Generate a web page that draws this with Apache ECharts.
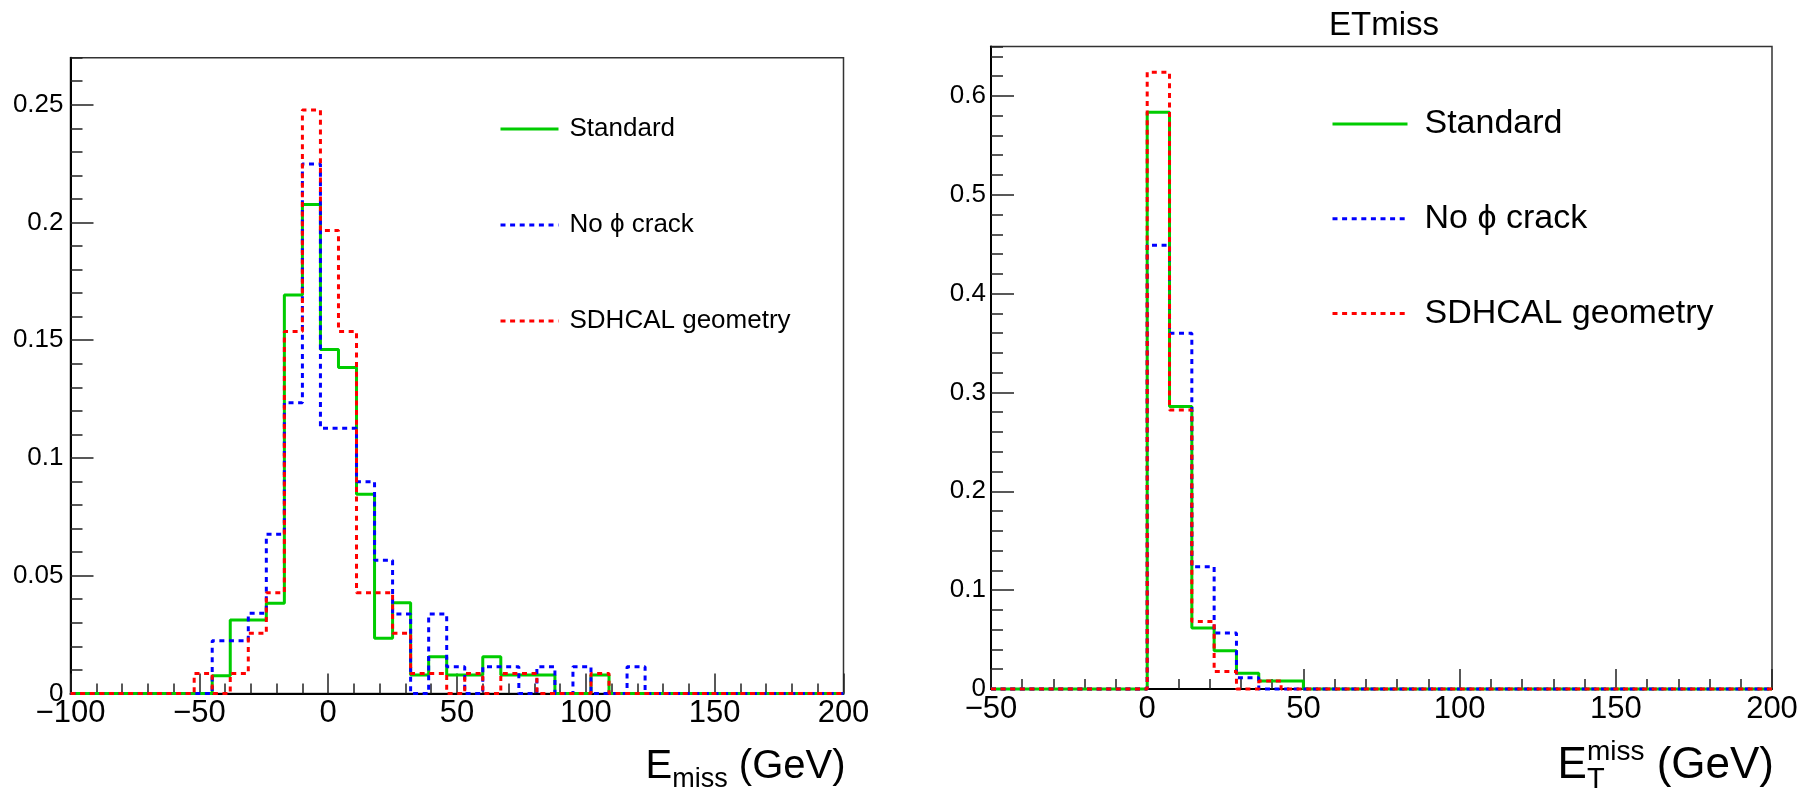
<!DOCTYPE html>
<html>
<head>
<meta charset="utf-8">
<script src="https://cdn.jsdelivr.net/npm/echarts@6/dist/echarts.min.js"></script>
<style>
  html, body { margin: 0; padding: 0; background: #fff; }
  #chart { width: 1818px; height: 794px; }
</style>
</head>
<body>
<div id="chart"></div>
<script>
// ---- E_miss histograms: 7 GeV bins, first listed bin starts at -52 GeV ----
const emissBinStart = -52;
const emissBinWidth = 7;
const emissStandard = [0, 0.0075, 0.0312, 0.0312, 0.0383, 0.1692, 0.2076, 0.1461, 0.1384, 0.0846,
  0.0234, 0.0385, 0.0078, 0.0156, 0.0078, 0.0078, 0.0156, 0.0078, 0.0078, 0.0078,
  0, 0, 0.0078, 0, 0];
const emissNoPhiCrack = [0, 0.0224, 0.0224, 0.034, 0.0676, 0.1235, 0.2249, 0.1126, 0.1126, 0.0899,
  0.0565, 0.0337, 0, 0.0337, 0.0113, 0, 0.0113, 0.0113, 0, 0.0113,
  0, 0.0113, 0, 0, 0.0113];
const emissSdhcal = [0.0085, 0, 0.0085, 0.0255, 0.0428, 0.1537, 0.2478, 0.1966, 0.1537, 0.0428,
  0.0428, 0.0255, 0.0085, 0.0085, 0, 0.0085, 0, 0.0085, 0.0085, 0,
  0, 0, 0.0085, 0, 0];
const emissRange = [-100, 200];
const emissYMax = 0.27;

// ---- ET_miss histograms: 35 bins over [-50, 200], first listed bin starts at 0 ----
const etmissBinStart = 0;
const etmissBinWidth = 250 / 35;
const etmissStandard = [0.5836, 0.2857, 0.0617, 0.0386, 0.016, 0.0081, 0.0081];
const etmissNoPhiCrack = [0.449, 0.3598, 0.1236, 0.0566, 0.0115, 0, 0];
const etmissSdhcal = [0.624, 0.2823, 0.0684, 0.0176, 0, 0.0081, 0];
const etmissRange = [-50, 200];
const etmissYMax = 0.65;

const seriesNames = ['Standard', 'No \u03d5 crack', 'SDHCAL geometry'];
const seriesColors = ['#00cc00', '#0000ff', '#ff0000'];
const FONT = '"Liberation Sans", Arial, Helvetica, sans-serif';

// Histogram outline: zero up to the first bin, one step per bin, back to zero, on to the axis end.
function outline(start, width, values, lo, hi) {
  const pts = [[lo, 0]];
  values.forEach((v, i) => pts.push([start + i * width, v]));
  pts.push([start + values.length * width, 0]);
  pts.push([hi, 0]);
  return pts;
}

const minusFmt = v => (v < 0 ? '\u2212' + (-v) : String(v));
const tickColor = '#222';
const dashPattern = [5, 4.6];

function xAxes(grid, range, nameRich, name, pad) {
  return [
    {
      type: 'value', gridIndex: grid, position: 'bottom', min: range[0], max: range[1], interval: 50,
      axisLine: { show: true, onZero: false, lineStyle: { color: '#000', width: 2 } },
      axisTick: { show: true, inside: true, length: 20, lineStyle: { color: tickColor, width: 1.5 } },
      axisLabel: { fontSize: 31, fontFamily: FONT, color: '#000', margin: 5, formatter: minusFmt },
      splitLine: { show: false },
      name: name, nameLocation: 'end', nameGap: 2,
      nameTextStyle: { align: 'right', verticalAlign: 'top', padding: [pad, 0, 0, 0], fontFamily: FONT, rich: nameRich }
    },
    {
      type: 'value', gridIndex: grid, position: 'bottom', min: range[0], max: range[1], interval: 10,
      axisLine: { show: false, onZero: false },
      axisTick: { show: true, inside: true, length: 10, lineStyle: { color: tickColor, width: 1.5 } },
      axisLabel: { show: false }, splitLine: { show: false }
    }
  ];
}

function yAxes(grid, max, major, minor, margin) {
  return [
    {
      type: 'value', gridIndex: grid, position: 'left', min: 0, max: max, interval: major,
      axisLine: { show: true, onZero: false, lineStyle: { color: '#000', width: 2 } },
      axisTick: { show: true, inside: true, length: 23, lineStyle: { color: tickColor, width: 1.5 } },
      axisLabel: { fontSize: 26, fontFamily: FONT, color: '#000', margin: margin, showMaxLabel: false },
      splitLine: { show: false }
    },
    {
      type: 'value', gridIndex: grid, position: 'left', min: 0, max: max, interval: minor,
      axisLine: { show: false, onZero: false },
      axisTick: { show: true, inside: true, length: 12, lineStyle: { color: tickColor, width: 1.5 } },
      axisLabel: { show: false }, splitLine: { show: false }
    }
  ];
}

function histSeries(xi, yi, start, width, range, sets) {
  return sets.map((vals, k) => ({
    type: 'line', name: seriesNames[k], xAxisIndex: xi, yAxisIndex: yi,
    step: 'end', symbol: 'none', showSymbol: false, clip: false,
    data: outline(start, width, vals, range[0], range[1]),
    lineStyle: { color: seriesColors[k], width: 3, type: k === 0 ? 'solid' : dashPattern },
    itemStyle: { color: seriesColors[k] },
    z: 3 + k
  }));
}

const txt = { fontFamily: FONT, color: '#000', align: 'left' };
const emissNameRich = {
  e: { ...txt, fontSize: 40, lineHeight: 52 },
  s: { ...txt, fontSize: 27, lineHeight: 24, verticalAlign: 'bottom' }
};
const etmissNameRich = {
  e: { ...txt, fontSize: 44, lineHeight: 56 },
  t: { ...txt, fontSize: 29, lineHeight: 22, width: 0, verticalAlign: 'bottom' },
  m: { ...txt, fontSize: 28, lineHeight: 28, verticalAlign: 'top' }
};

function legendBox(left, top, itemWidth, gap, fontSize, textPad) {
  return {
    orient: 'vertical', left: left, top: top, padding: 0,
    itemWidth: itemWidth, itemHeight: 14, itemGap: gap,
    selectedMode: false, data: seriesNames,
    itemStyle: { opacity: 0, borderWidth: 0 },
    lineStyle: { width: 3 },
    textStyle: { fontSize: fontSize, fontFamily: FONT, color: '#000', padding: [0, 0, 0, textPad] }
  };
}

const chart = echarts.init(document.getElementById('chart'), null, { renderer: 'canvas' });
chart.setOption({
  animation: false,
  backgroundColor: '#fff',
  title: {
    text: 'ETmiss', left: 1324, top: 4,
    textStyle: { fontSize: 33, fontWeight: 'normal', color: '#000', fontFamily: FONT }
  },
  grid: [
    { left: 70.5, top: 57.7, width: 773, height: 635.7, show: true, borderColor: '#333', borderWidth: 1.5, backgroundColor: 'transparent' },
    { left: 991, top: 46.5, width: 781, height: 643, show: true, borderColor: '#333', borderWidth: 1.5, backgroundColor: 'transparent' }
  ],
  legend: [
    legendBox(499, 116, 58, 70, 26, 6),
    legendBox(1331, 107, 75, 60.7, 34, 12)
  ],
  xAxis: [
    ...xAxes(0, emissRange, emissNameRich, '{e|E}{s|miss}{e| (GeV)}', 48),
    ...xAxes(1, etmissRange, etmissNameRich, '{e|E}{t|T}{m|miss}{e| (GeV)}', 49)
  ],
  yAxis: [
    ...yAxes(0, emissYMax, 0.05, 0.01, 7),
    ...yAxes(1, etmissYMax, 0.1, 0.02, 5)
  ],
  series: [
    ...histSeries(0, 0, emissBinStart, emissBinWidth, emissRange, [emissStandard, emissNoPhiCrack, emissSdhcal]),
    ...histSeries(2, 2, etmissBinStart, etmissBinWidth, etmissRange, [etmissStandard, etmissNoPhiCrack, etmissSdhcal])
  ]
});
</script>
</body>
</html>
